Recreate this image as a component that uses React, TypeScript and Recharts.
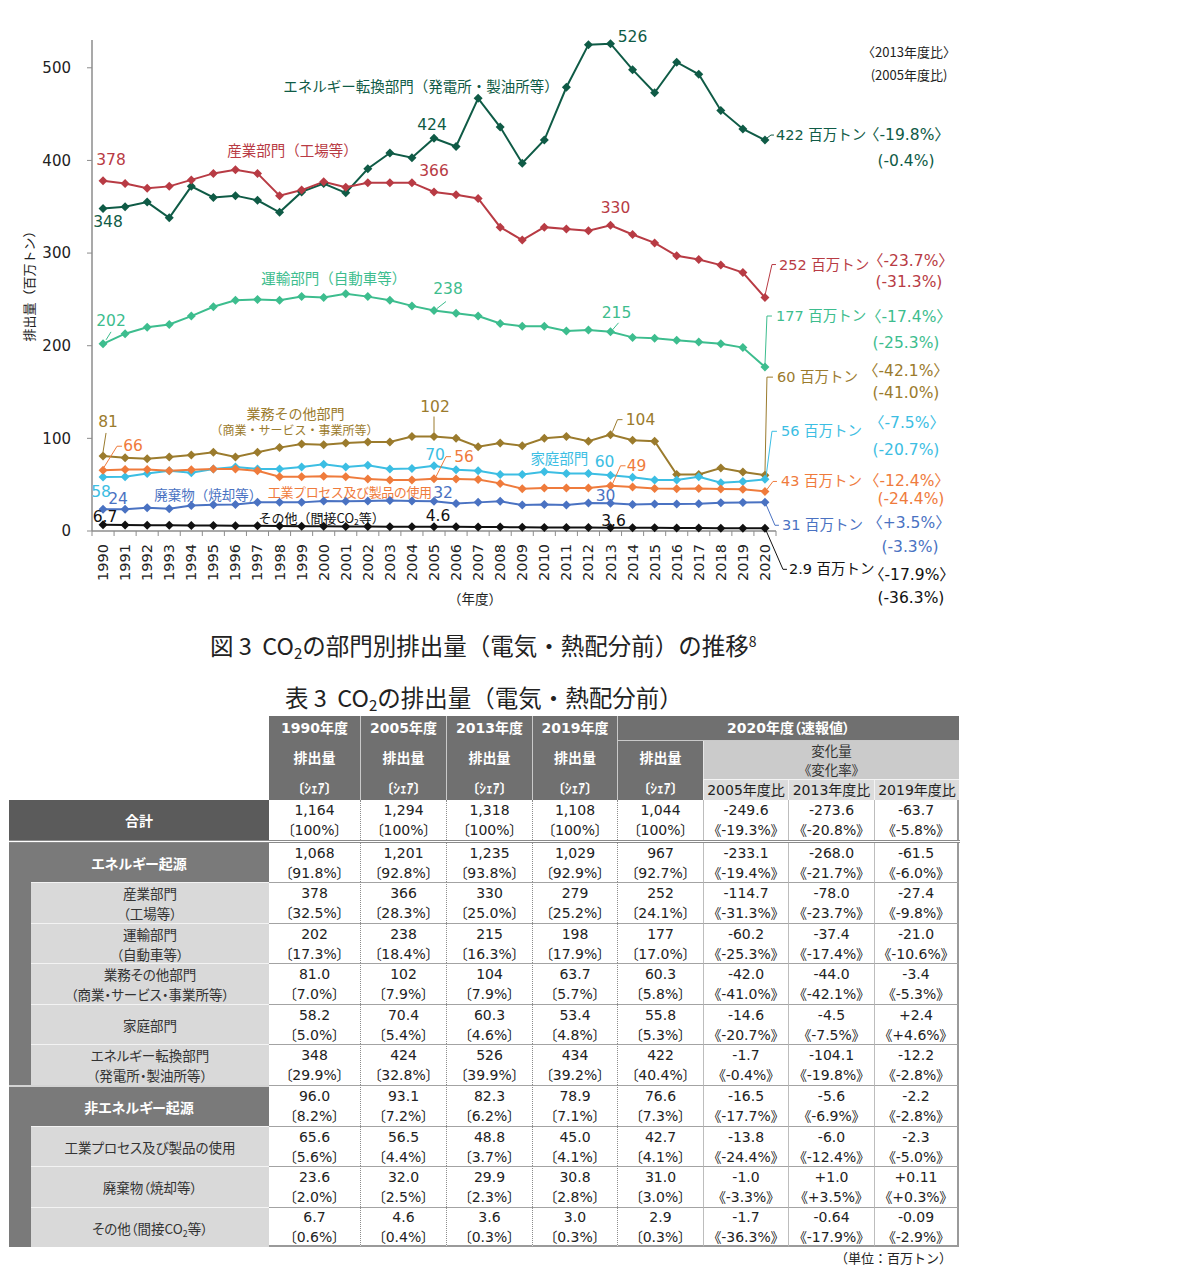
import React from 'react';
import { LineChart, Line, XAxis, YAxis } from 'recharts';

const FONT = '"DejaVu Sans", "Noto Sans CJK JP", sans-serif';
const JP = '"Noto Sans CJK JP", "DejaVu Sans", sans-serif';
const AXIS = '#8c8c8c';

// ---------- chart data ----------
const years = ['1990','1991','1992','1993','1994','1995','1996','1997','1998','1999','2000','2001','2002','2003','2004','2005','2006','2007','2008','2009','2010','2011','2012','2013','2014','2015','2016','2017','2018','2019','2020'];
const energyConversion = [348, 350, 355, 338, 372, 360, 362, 357, 344, 366, 375, 365, 391, 408, 403, 424, 415, 467, 436, 397, 422, 479, 525, 526, 498, 473, 506, 493, 454, 434, 422];
const industry = [378, 375, 370, 372, 379, 386, 390, 386, 362, 368, 377, 371, 376, 376, 376, 366, 363, 359, 328, 314, 328, 326, 324, 330, 320, 311, 297, 293, 287, 279, 252];
const transport = [202, 213, 220, 223, 232, 242, 249, 250, 249, 253, 252, 256, 253, 249, 243, 238, 235, 232, 224, 221, 221, 216, 217, 215, 209, 208, 206, 204, 202, 198, 177];
const commercial = [81.0, 79, 78, 80, 82, 85, 80, 85, 90, 94, 93, 95, 96, 96, 102, 102, 100, 91, 95, 92, 100, 102, 97, 104, 98, 97, 61, 61, 68, 63.7, 60.3];
const residential = [58.2, 58.5, 62, 65, 63, 67, 69, 67, 67, 69, 72, 69, 71, 67, 67.5, 70.4, 66, 65, 61, 61, 64, 62, 62, 60.3, 58, 55, 55, 58.5, 52, 53.4, 55.8];
const industrialProcess = [65.6, 66.5, 66.5, 65, 66, 67, 67, 65, 58.5, 58.5, 59, 58.5, 56, 55, 55, 56.5, 56, 55.7, 51.4, 45.6, 46.3, 46.3, 46.3, 48.8, 47.4, 46, 45.6, 46, 45.3, 45.0, 42.7];
const waste = [23.6, 23.5, 25, 24, 27.5, 28.4, 28.7, 30.9, 30.9, 30.9, 32.3, 32, 32.3, 33, 32.3, 32.0, 29.8, 30.9, 32, 28, 28.7, 28, 30.2, 29.9, 28.7, 29.1, 29.1, 29.5, 30.5, 30.8, 31.0];
const other = [6.7, 6.5, 6.3, 6.1, 6.0, 5.9, 5.8, 5.6, 5.3, 5.1, 5.0, 4.9, 4.8, 4.7, 4.6, 4.6, 4.5, 4.4, 4.2, 4.0, 3.9, 3.8, 3.7, 3.6, 3.5, 3.4, 3.3, 3.2, 3.1, 3.0, 2.9];
const yTicks = [0, 100, 200, 300, 400, 500];

const data = years.map((year, i) => ({
  year,
  energy: energyConversion[i],
  industry: industry[i],
  transport: transport[i],
  commercial: commercial[i],
  residential: residential[i],
  process: industrialProcess[i],
  waste: waste[i],
  other: other[i],
}));

type Note = { i: number; t: string; dx: number; dy: number; a?: 'start' | 'middle' | 'end'; fs?: number; lead?: number[][]; jp?: boolean; co2?: boolean; ls?: number };
type Series = { key: string; color: string; notes: Note[] };

const END = 14.5;
const PCT = 15.5;

const series: Series[] = [
  { key: 'energy', color: '#0f5b46', notes: [
    { i: 0, t: '348', dx: 5, dy: 13 },
    { i: 15, t: '424', dx: -2, dy: -13 },
    { i: 23, t: '526', dx: 22, dy: -7 },
    { i: 14, t: 'エネルギー転換部門（発電所・製油所等）', dx: 9, dy: -72, jp: true },
    { i: 30, t: '422 百万トン', dx: 11, dy: -5, a: 'start', fs: END, lead: [[2, -2], [6, -5], [9, -5]] },
    { i: 30, t: '〈-19.8%〉', dx: 142, dy: -5, fs: PCT },
    { i: 30, t: '(-0.4%)', dx: 141, dy: 21, fs: PCT },
  ] },
  { key: 'industry', color: '#b83b44', notes: [
    { i: 0, t: '378', dx: 8, dy: -21 },
    { i: 15, t: '366', dx: 0, dy: -21 },
    { i: 23, t: '330', dx: 5, dy: -17 },
    { i: 9, t: '産業部門（工場等）', dx: -9, dy: -41, jp: true },
    { i: 30, t: '252 百万トン', dx: 14, dy: -33, a: 'start', fs: END, lead: [[0, -2], [7, -33], [11, -33]] },
    { i: 30, t: '〈-23.7%〉', dx: 146, dy: -37, fs: PCT },
    { i: 30, t: '(-31.3%)', dx: 144, dy: -16, fs: PCT },
  ] },
  { key: 'transport', color: '#3dbd8e', notes: [
    { i: 0, t: '202', dx: 8, dy: -23, lead: [[3, -4], [8, -12]] },
    { i: 15, t: '238', dx: 14, dy: -22, lead: [[3, -2], [12, -9]] },
    { i: 23, t: '215', dx: 6, dy: -19, lead: [[2, -2], [8, -9]] },
    { i: 11, t: '運輸部門（自動車等）', dx: -12, dy: -16, jp: true },
    { i: 30, t: '177 百万トン', dx: 11, dy: -51, a: 'start', fs: END, lead: [[0, -2], [2, -51], [7, -51]] },
    { i: 30, t: '〈-17.4%〉', dx: 144, dy: -50, fs: PCT },
    { i: 30, t: '(-25.3%)', dx: 141, dy: -24, fs: PCT },
  ] },
  { key: 'commercial', color: '#9b7b2d', notes: [
    { i: 0, t: '81', dx: 5, dy: -34, lead: [[0, -4], [3, -23]] },
    { i: 15, t: '102', dx: 1, dy: -30, lead: [[0, -4], [0, -20]] },
    { i: 23, t: '104', dx: 30, dy: -15, lead: [[2, -3], [7, -15], [12, -15]] },
    { i: 9, t: '業務その他部門', dx: -6, dy: -31, jp: true, fs: 14 },
    { i: 9, t: '（商業・サービス・事業所等）', dx: -7, dy: -14, jp: true, fs: 12 },
    { i: 30, t: '60 百万トン', dx: 12, dy: -98, a: 'start', fs: END, lead: [[0, -2], [2, -98], [8, -98]] },
    { i: 30, t: '〈-42.1%〉', dx: 141, dy: -104, fs: PCT },
    { i: 30, t: '(-41.0%)', dx: 141, dy: -82, fs: PCT },
  ] },
  { key: 'residential', color: '#3cbee3', notes: [
    { i: 0, t: '58', dx: -2, dy: 15 },
    { i: 15, t: '70', dx: 1, dy: -11 },
    { i: 23, t: '60', dx: -6, dy: -13 },
    { i: 21, t: '家庭部門', dx: -7, dy: -16, jp: true },
    { i: 30, t: '56 百万トン', dx: 16, dy: -48, a: 'start', fs: END, lead: [[1, -2], [7, -48], [12, -48]] },
    { i: 30, t: '〈-7.5%〉', dx: 142, dy: -56, fs: PCT },
    { i: 30, t: '(-20.7%)', dx: 141, dy: -29, fs: PCT },
  ] },
  { key: 'process', color: '#ef7b3c', notes: [
    { i: 0, t: '66', dx: 30, dy: -24, lead: [[1, -3], [14, -24], [19, -24]] },
    { i: 15, t: '56', dx: 30, dy: -22, lead: [[2, -2], [12, -22], [17, -22]] },
    { i: 23, t: '49', dx: 26, dy: -20, lead: [[2, -2], [10, -20], [15, -20]] },
    { i: 11, t: '工業プロセス及び製品の使用', dx: 4, dy: 15, jp: true, fs: 13, ls: -0.4 },
    { i: 30, t: '43 百万トン', dx: 16, dy: -10, a: 'start', fs: END, lead: [[2, -2], [8, -10], [12, -10]] },
    { i: 30, t: '〈-12.4%〉', dx: 142, dy: -10, fs: PCT },
    { i: 30, t: '(-24.4%)', dx: 146, dy: 8, fs: PCT },
  ] },
  { key: 'waste', color: '#4a72c2', notes: [
    { i: 0, t: '24', dx: 15, dy: -10 },
    { i: 15, t: '32', dx: 9, dy: -8 },
    { i: 23, t: '30', dx: -5, dy: -7 },
    { i: 5, t: '廃棄物（焼却等）', dx: -5, dy: -11, jp: true, fs: 13.5 },
    { i: 30, t: '31 百万トン', dx: 17, dy: 23, a: 'start', fs: END, lead: [[1, 2], [10, 23], [14, 23]] },
    { i: 30, t: '〈+3.5%〉', dx: 144, dy: 21, fs: PCT },
    { i: 30, t: '(-3.3%)', dx: 145, dy: 45, fs: PCT },
  ] },
  { key: 'other', color: '#111111', notes: [
    { i: 0, t: '6.7', dx: 2, dy: -8 },
    { i: 15, t: '4.6', dx: 4, dy: -11 },
    { i: 23, t: '3.6', dx: 3, dy: -7 },
    { i: 10, t: 'その他（間接CO2等）', dx: -2, dy: -9, jp: true, fs: 13, co2: true },
    { i: 30, t: '2.9 百万トン', dx: 24, dy: 41, a: 'start', fs: END, lead: [[1, 2], [18, 41], [22, 41]] },
    { i: 30, t: '〈-17.9%〉', dx: 147, dy: 47, fs: PCT },
    { i: 30, t: '(-36.3%)', dx: 146, dy: 70, fs: PCT },
  ] },
];

// ---------- table data ----------
const colHeads = ['1990年度', '2005年度', '2013年度', '2019年度'];
const ratioHeads = ['2005年度比', '2013年度比', '2019年度比'];
const rowLabels = [['合計'], ['エネルギー起源'], ['産業部門', '（工場等）'], ['運輸部門', '（自動車等）'], ['業務その他部門', '（商業・サービス・事業所等）'], ['家庭部門'], ['エネルギー転換部門', '（発電所・製油所等）'], ['非エネルギー起源'], ['工業プロセス及び製品の使用'], ['廃棄物（焼却等）'], ['その他（間接CO2等）']];
const rowKinds = ['total', 'group', 'sub', 'sub', 'sub', 'sub', 'sub', 'group', 'sub', 'sub', 'sub'];
const amounts = [
  ['1,164', '1,294', '1,318', '1,108', '1,044', '-249.6', '-273.6', '-63.7'],
  ['1,068', '1,201', '1,235', '1,029', '967', '-233.1', '-268.0', '-61.5'],
  ['378', '366', '330', '279', '252', '-114.7', '-78.0', '-27.4'],
  ['202', '238', '215', '198', '177', '-60.2', '-37.4', '-21.0'],
  ['81.0', '102', '104', '63.7', '60.3', '-42.0', '-44.0', '-3.4'],
  ['58.2', '70.4', '60.3', '53.4', '55.8', '-14.6', '-4.5', '+2.4'],
  ['348', '424', '526', '434', '422', '-1.7', '-104.1', '-12.2'],
  ['96.0', '93.1', '82.3', '78.9', '76.6', '-16.5', '-5.6', '-2.2'],
  ['65.6', '56.5', '48.8', '45.0', '42.7', '-13.8', '-6.0', '-2.3'],
  ['23.6', '32.0', '29.9', '30.8', '31.0', '-1.0', '+1.0', '+0.11'],
  ['6.7', '4.6', '3.6', '3.0', '2.9', '-1.7', '-0.64', '-0.09'],
];
const shares = [
  ['〔100%〕', '〔100%〕', '〔100%〕', '〔100%〕', '〔100%〕', '《-19.3%》', '《-20.8%》', '《-5.8%》'],
  ['〔91.8%〕', '〔92.8%〕', '〔93.8%〕', '〔92.9%〕', '〔92.7%〕', '《-19.4%》', '《-21.7%》', '《-6.0%》'],
  ['〔32.5%〕', '〔28.3%〕', '〔25.0%〕', '〔25.2%〕', '〔24.1%〕', '《-31.3%》', '《-23.7%》', '《-9.8%》'],
  ['〔17.3%〕', '〔18.4%〕', '〔16.3%〕', '〔17.9%〕', '〔17.0%〕', '《-25.3%》', '《-17.4%》', '《-10.6%》'],
  ['〔7.0%〕', '〔7.9%〕', '〔7.9%〕', '〔5.7%〕', '〔5.8%〕', '《-41.0%》', '《-42.1%》', '《-5.3%》'],
  ['〔5.0%〕', '〔5.4%〕', '〔4.6%〕', '〔4.8%〕', '〔5.3%〕', '《-20.7%》', '《-7.5%》', '《+4.6%》'],
  ['〔29.9%〕', '〔32.8%〕', '〔39.9%〕', '〔39.2%〕', '〔40.4%〕', '《-0.4%》', '《-19.8%》', '《-2.8%》'],
  ['〔8.2%〕', '〔7.2%〕', '〔6.2%〕', '〔7.1%〕', '〔7.3%〕', '《-17.7%》', '《-6.9%》', '《-2.8%》'],
  ['〔5.6%〕', '〔4.4%〕', '〔3.7%〕', '〔4.1%〕', '〔4.1%〕', '《-24.4%》', '《-12.4%》', '《-5.0%》'],
  ['〔2.0%〕', '〔2.5%〕', '〔2.3%〕', '〔2.8%〕', '〔3.0%〕', '《-3.3%》', '《+3.5%》', '《+0.3%》'],
  ['〔0.6%〕', '〔0.4%〕', '〔0.3%〕', '〔0.3%〕', '〔0.3%〕', '《-36.3%》', '《-17.9%》', '《-2.9%》'],
];

// ---------- layout ----------
const CHART_W = 980;
const CHART_H = 620;
const MARGIN = { top: 40, right: 204, left: 32, bottom: 0 };
const YAXIS_W = 60;
const PLOT_W = CHART_W - MARGIN.left - MARGIN.right - YAXIS_W;
const BAND = PLOT_W / years.length;

const COLX = [9, 269, 360, 446, 532, 617, 703, 788, 874, 959];
const ROWY = [800, 843, 882, 923, 963, 1004, 1044, 1085, 1126, 1166, 1207, 1247];

const renderCO2 = (t: string, fs: number) => {
  const idx = t.indexOf('CO2');
  if (idx < 0) return t;
  return [
    <tspan key="a">{t.slice(0, idx + 2)}</tspan>,
    <tspan key="b" dy={4} fontSize={fs * 0.65}>2</tspan>,
    <tspan key="c" dy={-4}>{t.slice(idx + 3)}</tspan>,
  ];
};

const makeDot = (s: Series) => (props: any) => {
  const { cx, cy, index } = props;
  if (cx == null || cy == null) return <g key={`${s.key}-${index}`} />;
  const r = 4.5;
  const notes = s.notes.filter((n) => n.i === index);
  return (
    <g key={`${s.key}-${index}`}>
      <path d={`M${cx},${cy - r}L${cx + r},${cy}L${cx},${cy + r}L${cx - r},${cy}Z`} fill={s.color} />
      {notes.map((n, k) => {
        const fs = n.fs ?? (n.jp ? 14.5 : 15.5);
        return (
          <g key={k}>
            {n.lead && (
              <polyline
                points={n.lead.map((p) => `${cx + p[0]},${cy + p[1]}`).join(' ')}
                fill="none"
                stroke={s.color}
                strokeWidth={1}
              />
            )}
            <text
              x={cx + n.dx}
              y={cy + n.dy}
              textAnchor={n.a ?? 'middle'}
              dominantBaseline="central"
              fontSize={fs}
              fill={s.color}
              fontFamily={n.jp ? JP : FONT}
              letterSpacing={n.ls ?? 0}
            >
              {n.co2 ? renderCO2(n.t, fs) : n.t}
            </text>
          </g>
        );
      })}
    </g>
  );
};

const XTick = (props: any) => {
  const { x, y, payload, index } = props;
  const h = BAND / 2;
  const ty = y + 13;
  return (
    <g>
      <line x1={x - h} y1={y} x2={x - h} y2={y + 5} stroke={AXIS} strokeWidth={1} />
      {index === years.length - 1 && <line x1={x + h} y1={y} x2={x + h} y2={y + 5} stroke={AXIS} strokeWidth={1} />}
      <text x={x} y={ty} transform={`rotate(-90 ${x} ${ty})`} textAnchor="end" dominantBaseline="central" fontSize={14.5} fill="#222" fontFamily={FONT}>
        {payload.value}
      </text>
    </g>
  );
};

const Txt = ({ x, y, size = 13, color = '#222', anchor = 'middle', weight = 400, family = JP, ls = 0, children }: any) => {
  const tx = anchor === 'middle' ? '-50%' : anchor === 'end' ? '-100%' : '0';
  return (
    <div style={{ position: 'absolute', left: x, top: y, transform: `translate(${tx}, -50%)`, fontSize: size, color, fontWeight: weight, fontFamily: family, whiteSpace: 'nowrap', lineHeight: 1.2, letterSpacing: ls }}>
      {children}
    </div>
  );
};

const Box = ({ x0, x1, y0, y1, bg = 'transparent', style = {}, lh = 20, children }: any) => (
  <div
    style={{
      position: 'absolute', left: x0, top: y0, width: x1 - x0, height: y1 - y0, background: bg, boxSizing: 'border-box',
      display: 'flex', flexDirection: 'column', alignItems: 'center', justifyContent: 'center', lineHeight: `${lh}px`, whiteSpace: 'nowrap', ...style,
    }}
  >
    {children}
  </div>
);

const labelText = (t: string) => {
  const idx = t.indexOf('CO2');
  if (idx < 0) return t;
  return (
    <span>
      {t.slice(0, idx + 2)}
      <sub style={{ fontSize: '0.65em', verticalAlign: '-0.3em', lineHeight: 0 }}>2</sub>
      {t.slice(idx + 3)}
    </span>
  );
};

const Table = () => {
  const HDR = '#707070';
  const cells: React.ReactNode[] = [];
  const hText = { color: '#fff', fontWeight: 700, fontSize: 14, fontFamily: FONT, fontFeatureSettings: '"palt"' } as React.CSSProperties;
  colHeads.forEach((h, c) => {
    cells.push(
      <Box key={`h${c}`} x0={COLX[c + 1]} x1={COLX[c + 2]} y0={716} y1={800} bg={HDR} lh={30} style={{ ...hText, borderLeft: c > 0 ? '1px solid #c9c9c9' : 'none' }}>
        <div>{h}</div>
        <div>排出量</div>
        <div style={{ fontSize: 13.5 }}>〔ｼｪｱ〕</div>
      </Box>,
    );
  });
  cells.push(
    <Box key="h2020" x0={COLX[5]} x1={COLX[9]} y0={716} y1={741} bg={HDR} style={{ ...hText, borderLeft: '1px solid #c9c9c9', borderBottom: '1px solid #c9c9c9' }}>
      2020年度（速報値）
    </Box>,
  );
  cells.push(
    <Box key="h2020a" x0={COLX[5]} x1={COLX[6]} y0={741} y1={800} bg={HDR} lh={30} style={{ ...hText, borderLeft: '1px solid #c9c9c9', paddingTop: 5 }}>
      <div>排出量</div>
      <div style={{ fontSize: 13.5 }}>〔ｼｪｱ〕</div>
    </Box>,
  );
  cells.push(
    <Box key="hchg" x0={COLX[6]} x1={COLX[9]} y0={741} y1={779} bg="#cbcbcb" lh={19} style={{ fontFamily: JP, fontSize: 13.5, color: '#333', borderLeft: '1px solid #e6e6e6' }}>
      <div>変化量</div>
      <div style={{ fontFeatureSettings: '"palt"' }}>《変化率》</div>
    </Box>,
  );
  ratioHeads.forEach((h, k) => {
    cells.push(
      <Box key={`r${k}`} x0={COLX[6 + k]} x1={COLX[7 + k]} y0={779} y1={800} bg="#dcdcdc" style={{ fontFamily: FONT, fontSize: 14, color: '#222', borderLeft: '1px solid #f4f4f4', borderTop: '1px solid #f4f4f4' }}>
        {h}
      </Box>,
    );
  });
  rowLabels.forEach((lab, r) => {
    const y0 = ROWY[r];
    const y1 = r === 0 ? 840 : ROWY[r + 1];
    const kind = rowKinds[r];
    const topLine = r >= 2 ? '1.5px solid #a3a3a3' : 'none';
    if (kind === 'total' || kind === 'group') {
      cells.push(
        <Box key={`l${r}`} x0={COLX[0]} x1={COLX[1]} y0={y0} y1={y1} bg={kind === 'total' ? '#5b5b5b' : '#7a7a7a'}
          style={{ color: '#fff', fontWeight: 700, fontSize: 14, fontFamily: JP, fontFeatureSettings: '"palt"', borderTop: r >= 2 ? '2px solid #d4d4d4' : 'none' }}>
          {lab[0]}
        </Box>,
      );
    } else {
      cells.push(<Box key={`s${r}`} x0={COLX[0]} x1={31} y0={y0} y1={y1} bg="#7a7a7a" />);
      cells.push(
        <Box key={`l${r}`} x0={31} x1={COLX[1]} y0={y0} y1={y1} bg="#d9d9d9"
          style={{ color: '#333', fontSize: 13.5, fontFamily: JP, fontFeatureSettings: '"palt"', borderTop: '1.5px solid #f3f3f3' }}>
          {lab.map((t, k) => <div key={k}>{labelText(t)}</div>)}
        </Box>,
      );
    }
    amounts[r].forEach((v, c) => {
      const sep = c === 0 ? 'none' : c <= 4 ? '1px dotted #8c8c8c' : '1px solid #bdbdbd';
      cells.push(
        <Box key={`d${r}-${c}`} x0={COLX[c + 1]} x1={COLX[c + 2]} y0={y0} y1={y1} bg="#fff"
          style={{
            fontFamily: FONT, fontSize: 14, color: '#222', fontFeatureSettings: '"palt"', borderLeft: sep, borderTop: topLine,
            borderRight: c === 7 ? '2px solid #9a9a9a' : 'none', borderBottom: r === rowLabels.length - 1 ? '2px solid #9a9a9a' : 'none',
          }}>
          <div>{v}</div>
          <div>{shares[r][c]}</div>
        </Box>,
      );
    });
  });
  cells.push(
    <div key="dbl" style={{ position: 'absolute', left: COLX[0], top: 840, width: COLX[9] - COLX[0] + 1, height: 3, boxSizing: 'border-box', borderTop: '1px solid #8a8a8a', borderBottom: '1.5px solid #8a8a8a', background: '#fff' }} />,
  );
  return <>{cells}</>;
};

export default function App() {
  const subStyle = { fontSize: 15, verticalAlign: '-0.25em', lineHeight: 0 } as React.CSSProperties;
  return (
    <div style={{ position: 'absolute', left: 0, top: 0, width: 1200, height: 1277, background: '#fff', fontFamily: FONT }}>
      <div style={{ position: 'absolute', left: 0, top: 0 }}>
        <LineChart width={CHART_W} height={CHART_H} data={data} margin={MARGIN}>
          <XAxis
            dataKey="year"
            type="category"
            interval={0}
            padding={{ left: BAND / 2, right: BAND / 2 }}
            height={CHART_H - MARGIN.top - 491}
            tickLine={false}
            tickSize={0}
            tickMargin={0}
            axisLine={{ stroke: AXIS, strokeWidth: 1.5 }}
            tick={<XTick />}
          />
          <YAxis
            width={YAXIS_W}
            domain={[0, 530]}
            ticks={yTicks}
            interval={0}
            tickSize={5}
            tickMargin={16}
            axisLine={{ stroke: AXIS, strokeWidth: 1.5 }}
            tickLine={{ stroke: AXIS }}
            tick={{ fill: '#222', fontSize: 15, fontFamily: FONT }}
            label={{
              content: () => (
                <text x={28} y={283} transform="rotate(-90 28 283)" textAnchor="middle" dominantBaseline="central" fontSize={13} fill="#222" fontFamily={JP}>
                  排出量（百万トン）
                </text>
              ),
            }}
          />
          {series.map((s) => (
            <Line
              key={s.key}
              type="linear"
              dataKey={s.key}
              stroke={s.color}
              strokeWidth={2}
              dot={makeDot(s)}
              activeDot={false}
              isAnimationActive={false}
            />
          ))}
        </LineChart>
      </div>
      <Txt x={909} y={52}>〈2013年度比〉</Txt>
      <Txt x={909} y={75}>(2005年度比)</Txt>
      <Txt x={475} y={598} size={13.5}>（年度）</Txt>
      <Txt x={210} y={645} size={23.5} anchor="start">
        図 3&nbsp; CO<sub style={subStyle}>2</sub>の部門別排出量（電気・熱配分前）の推移<sup style={{ fontSize: 14, verticalAlign: '0.6em', lineHeight: 0 }}>8</sup>
      </Txt>
      <Txt x={285} y={697} size={23.5} anchor="start">
        表 3&nbsp; CO<sub style={subStyle}>2</sub>の排出量（電気・熱配分前）
      </Txt>
      <Table />
      <Txt x={952} y={1258} size={13} anchor="end">（単位：百万トン）</Txt>
    </div>
  );
}
